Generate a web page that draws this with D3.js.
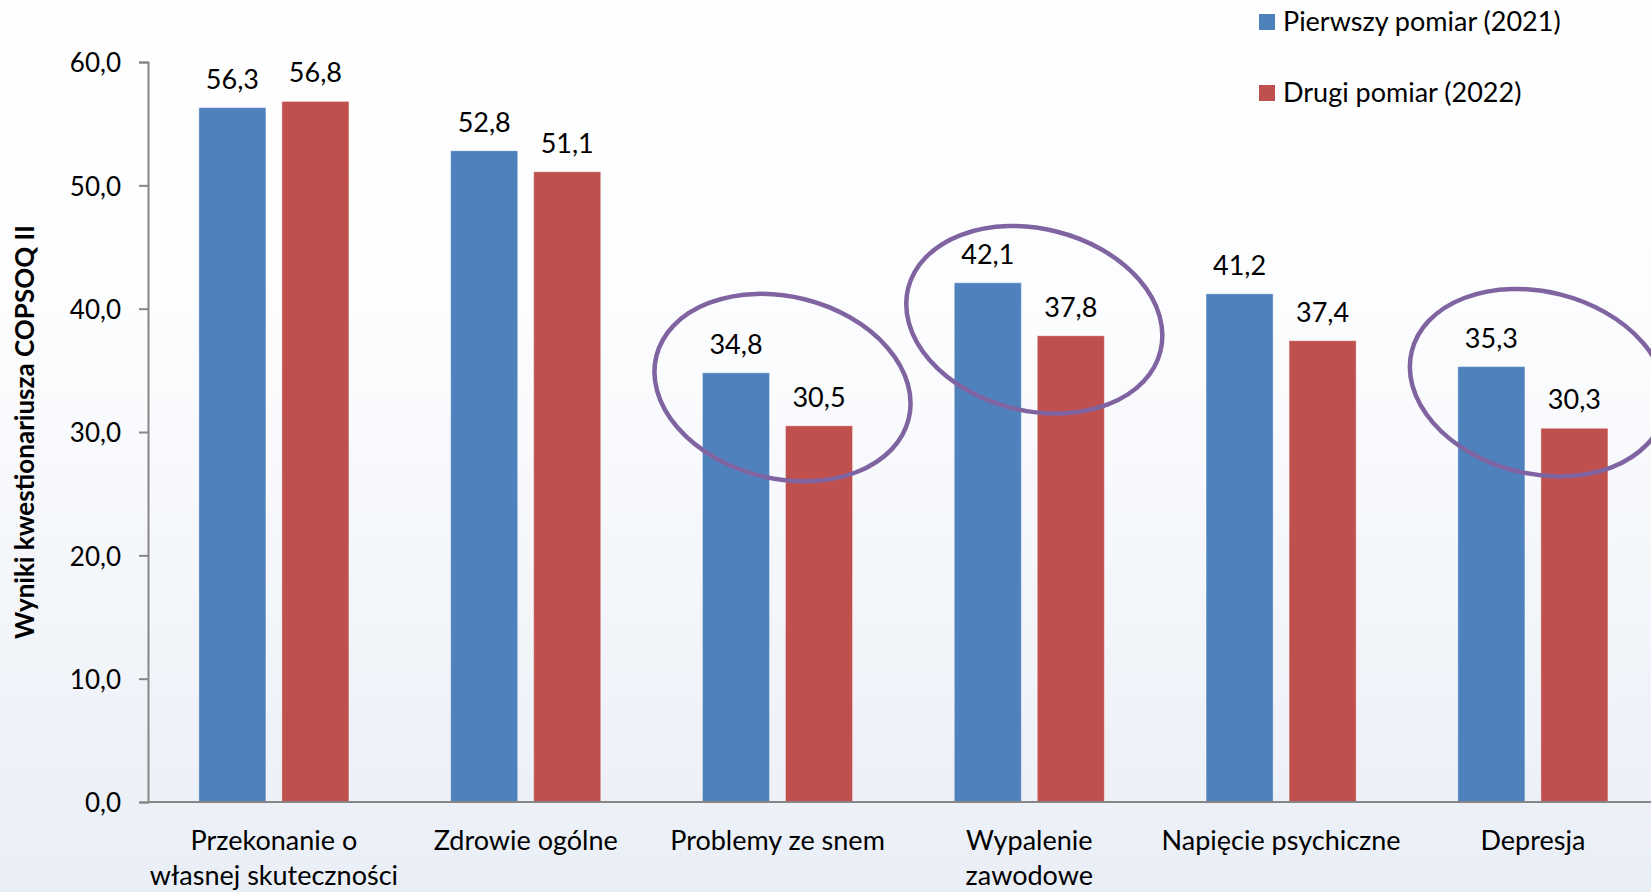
<!DOCTYPE html>
<html>
<head>
<meta charset="utf-8">
<script src="https://cdn.jsdelivr.net/npm/d3@7"></script>
<style>
  html, body { margin: 0; padding: 0; }
  body { width: 1651px; height: 892px; overflow: hidden; }
  svg { display: block; font-family: Lato, 'Open Sans', sans-serif; }
</style>
</head>
<body>
<div id="chart"></div>
<script>
const categories = [
  ['Przekonanie o', 'własnej skuteczności'],
  ['Zdrowie ogólne'],
  ['Problemy ze snem'],
  ['Wypalenie', 'zawodowe'],
  ['Napięcie psychiczne'],
  ['Depresja']
];
const seriesNames = ['Pierwszy pomiar (2021)', 'Drugi pomiar (2022)'];
const firstValues = [56.3, 52.8, 34.8, 42.1, 41.2, 35.3];
const secondValues = [56.8, 51.1, 30.5, 37.8, 37.4, 30.3];
const yTicks = [0, 10, 20, 30, 40, 50, 60];
const yTitle = 'Wyniki kwestionariusza COPSOQ II';
// circled categories and the level (in chart units) the circle sits at
const highlightIdx = [2, 3, 5];
const highlightLevel = [33.6, 39.1, 34.0];

const W = 1651;
const H = 892;
const colors = ['#4f81bd', '#c0504d'];
const axisColor = '#868686';
const fmt = v => d3.format('.1f')(v).replace('.', ',');

const svg = d3.select('#chart').append('svg')
  .attr('width', W)
  .attr('height', H);

// background gradient
const grad = svg.append('defs').append('linearGradient')
  .attr('id', 'bg')
  .attr('x1', 0).attr('y1', 0).attr('x2', 0).attr('y2', 1);
grad.append('stop').attr('offset', '0%').attr('stop-color', '#ffffff');
grad.append('stop').attr('offset', '35%').attr('stop-color', '#fcfdfe');
grad.append('stop').attr('offset', '100%').attr('stop-color', '#eaeef6');

svg.append('rect')
  .attr('width', W)
  .attr('height', H)
  .attr('fill', 'url(#bg)');

// scales
const catKeys = categories.map((d, i) => i);
const x0 = d3.scaleBand()
  .domain(catKeys)
  .range([148, 148 + 6 * 251.8])
  .padding(0);

const x1 = d3.scaleBand()
  .domain([0, 1])
  .range([0, x0.bandwidth()])
  .paddingInner(0.193)
  .paddingOuter(0.613);

const y = d3.scaleLinear()
  .domain([0, 60])
  .range([802, 62]);

// y axis
const yAxis = d3.axisLeft(y)
  .tickValues(yTicks)
  .tickSize(9)
  .tickFormat(fmt);

const gy = svg.append('g')
  .attr('transform', 'translate(148,0)')
  .call(yAxis);
gy.select('.domain').attr('stroke', axisColor).attr('stroke-width', 2);
gy.selectAll('.tick line').attr('stroke', axisColor).attr('stroke-width', 2);
gy.selectAll('.tick text')
  .attr('x', -27)
  .attr('dy', '0.38em')
  .attr('fill', '#000')
  .style('font-size', '26px')
  .style('font-family', 'Lato, sans-serif');

// bars
const rows = catKeys.map(i => ({ i, vals: [firstValues[i], secondValues[i]] }));

const groups = svg.selectAll('.grp')
  .data(rows)
  .enter().append('g')
  .attr('class', 'grp')
  .attr('transform', d => `translate(${x0(d.i)},0)`);

groups.selectAll('rect')
  .data(d => d.vals.map((v, s) => ({ v, s })))
  .enter().append('rect')
  .attr('x', d => x1(d.s))
  .attr('y', d => y(d.v))
  .attr('width', x1.bandwidth())
  .attr('height', d => y(0) - y(d.v))
  .attr('fill', d => colors[d.s])
  .attr('stroke', 'rgba(255,255,255,0.35)')
  .attr('stroke-width', 1);

groups.selectAll('.lbl')
  .data(d => d.vals.map((v, s) => ({ v, s })))
  .enter().append('text')
  .attr('class', 'lbl')
  .attr('x', d => x1(d.s) + x1.bandwidth() / 2)
  .attr('y', d => y(d.v) - 19)
  .attr('text-anchor', 'middle')
  .style('font-size', '27px')
  .text(d => fmt(d.v));

// x axis line
svg.append('line')
  .attr('x1', 148)
  .attr('x2', W)
  .attr('y1', y(0))
  .attr('y2', y(0))
  .attr('stroke', axisColor)
  .attr('stroke-width', 2);

// category labels
svg.selectAll('.cat')
  .data(categories)
  .enter().append('text')
  .attr('class', 'cat')
  .attr('text-anchor', 'middle')
  .style('font-size', '27px')
  .attr('transform', (d, i) => `translate(${x0(i) + x0.bandwidth() / 2},850)`)
  .selectAll('tspan')
  .data(d => d)
  .enter().append('tspan')
  .attr('x', 0)
  .attr('y', (d, j) => j * 35)
  .text(d => d);

// y title
svg.append('text')
  .attr('transform', `translate(34,${(y(0) + y(60)) / 2}) rotate(-90)`)
  .attr('text-anchor', 'middle')
  .style('font-size', '26px')
  .style('font-weight', 'bold')
  .text(yTitle);

// legend
const legend = svg.append('g')
  .attr('transform', 'translate(1259,14)');
const li = legend.selectAll('g')
  .data(seriesNames)
  .enter().append('g')
  .attr('transform', (d, i) => `translate(0,${i * 71})`);
li.append('rect')
  .attr('width', 16)
  .attr('height', 16)
  .attr('fill', (d, i) => colors[i]);
li.append('text')
  .attr('x', 24)
  .attr('y', 17)
  .style('font-size', '27px')
  .text(d => d);

// highlight ellipses
svg.selectAll('.hl')
  .data(highlightIdx)
  .enter().append('ellipse')
  .attr('class', 'hl')
  .attr('rx', 130)
  .attr('ry', 91)
  .attr('transform', (d, k) =>
    `translate(${x0(d) + x0.bandwidth() / 2 + 5},${y(highlightLevel[k])}) rotate(14)`)
  .attr('fill', 'none')
  .attr('stroke', '#8064a2')
  .attr('stroke-width', 4.5);
</script>
</body>
</html>
